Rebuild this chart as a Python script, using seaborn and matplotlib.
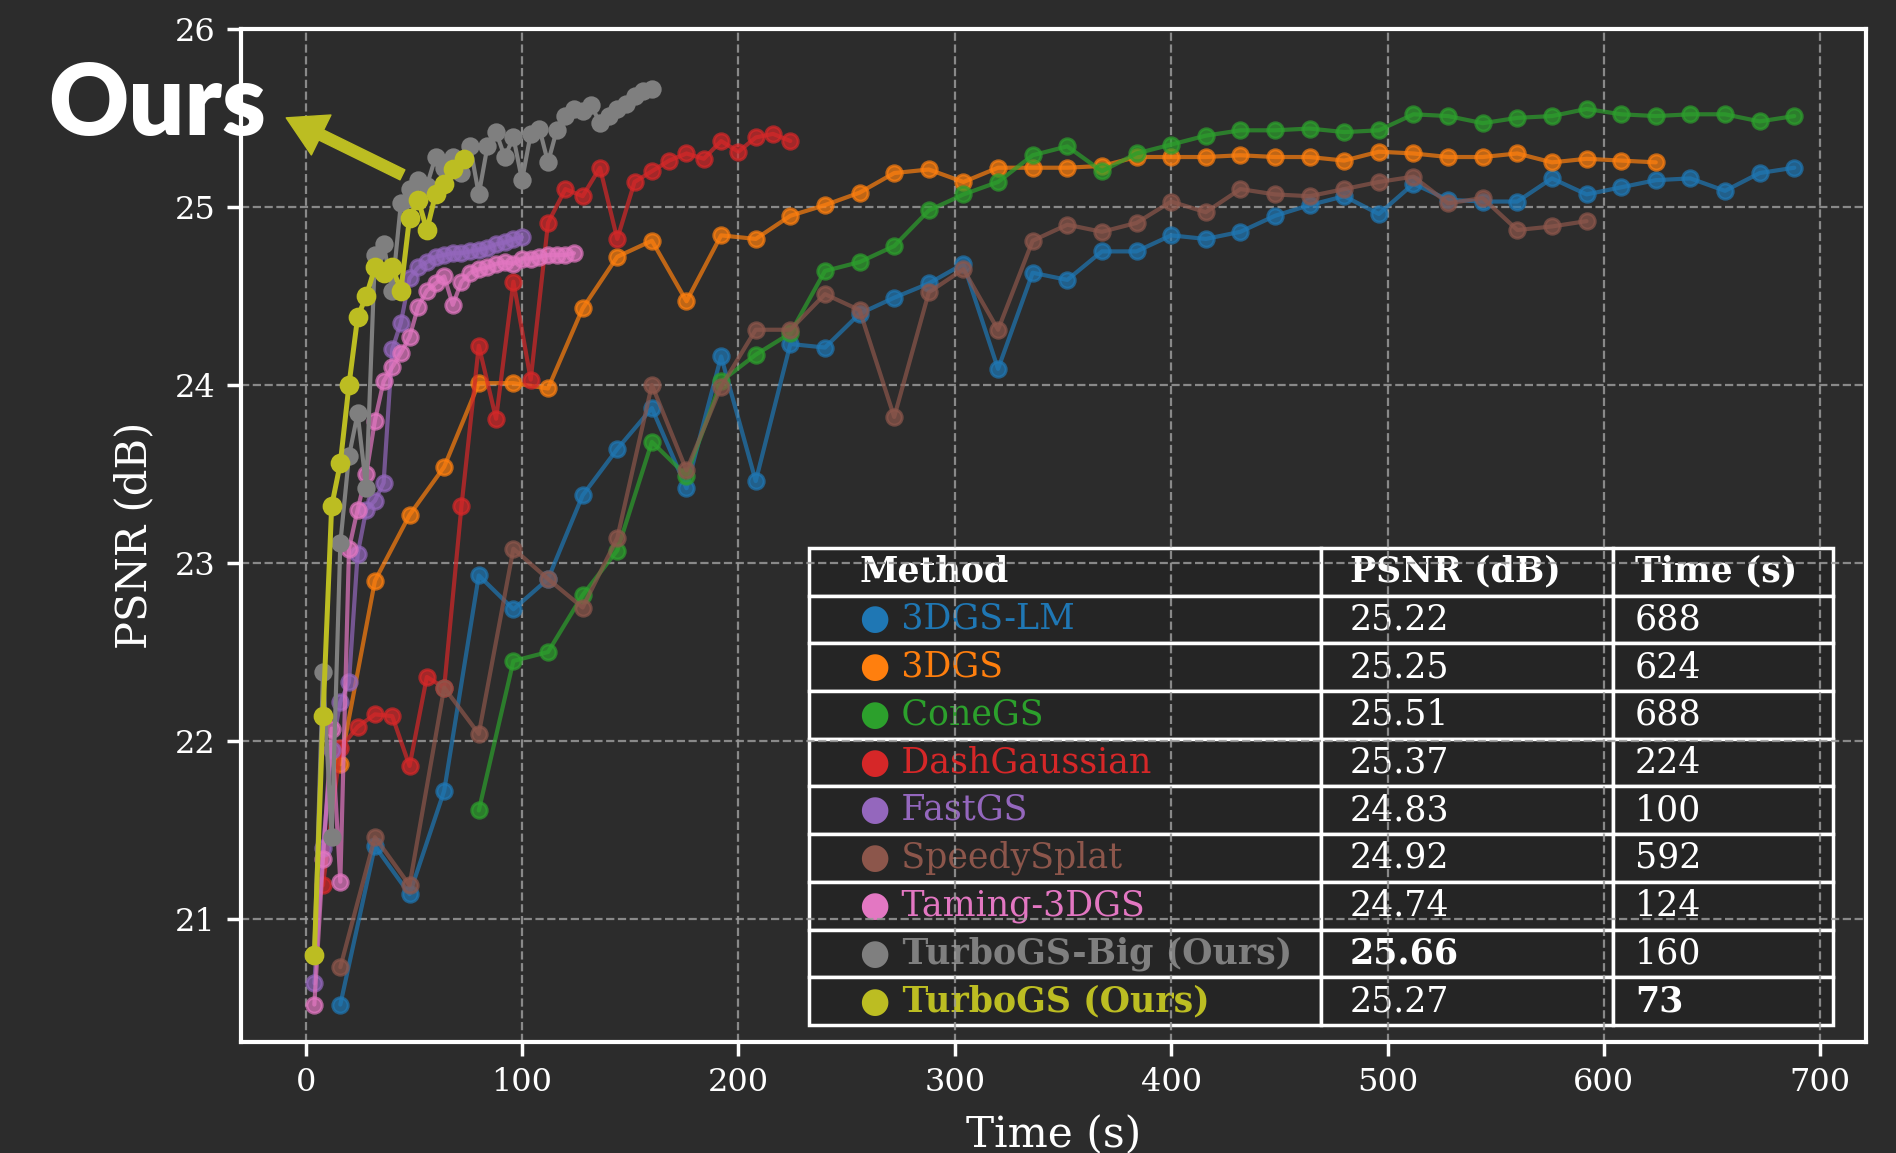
import numpy as np
import pandas as pd
import seaborn as sns
import matplotlib.pyplot as plt

# evaluation times (s) and PSNR (dB) per method
t_lm = list(range(16, 689, 16))
psnr_lm = [20.52, 21.41, 21.14, 21.72, 22.93, 22.74, 22.91, 23.38, 23.64, 23.87,
           23.42, 24.16, 23.46, 24.23, 24.21, 24.40, 24.49, 24.57, 24.68, 24.09,
           24.63, 24.59, 24.75, 24.75, 24.84, 24.82, 24.86, 24.95, 25.01, 25.06,
           24.96, 25.13, 25.04, 25.03, 25.03, 25.16, 25.07, 25.11, 25.15, 25.16,
           25.09, 25.19, 25.22]

t_3dgs = list(range(16, 625, 16))
psnr_3dgs = [21.87, 22.90, 23.27, 23.54, 24.01, 24.01, 23.98, 24.43, 24.72, 24.81,
             24.47, 24.84, 24.82, 24.95, 25.01, 25.08, 25.19, 25.21, 25.14, 25.22,
             25.22, 25.22, 25.23, 25.28, 25.28, 25.28, 25.29, 25.28, 25.28, 25.26,
             25.31, 25.30, 25.28, 25.28, 25.30, 25.25, 25.27, 25.26, 25.25]

t_cone = list(range(80, 689, 16))
psnr_cone = [21.61, 22.45, 22.50, 22.82, 23.07, 23.68, 23.49, 24.02, 24.17, 24.29,
             24.64, 24.69, 24.78, 24.98, 25.07, 25.14, 25.29, 25.34, 25.20, 25.30,
             25.35, 25.40, 25.43, 25.43, 25.44, 25.42, 25.43, 25.52, 25.51, 25.47,
             25.50, 25.51, 25.55, 25.52, 25.51, 25.52, 25.52, 25.48, 25.51]

t_dash = list(range(8, 225, 8))
psnr_dash = [21.19, 21.96, 22.08, 22.15, 22.14, 21.86, 22.36, 22.30, 23.32, 24.22,
             23.81, 24.58, 24.03, 24.91, 25.10, 25.06, 25.22, 24.82, 25.14, 25.20,
             25.26, 25.30, 25.27, 25.37, 25.31, 25.39, 25.41, 25.37]

t_fast = list(range(4, 101, 4))
psnr_fast = [20.64, 21.40, 21.95, 22.22, 22.33, 23.05, 23.30, 23.35, 23.45, 24.20,
             24.35, 24.60, 24.66, 24.69, 24.72, 24.73, 24.74, 24.74, 24.75, 24.76,
             24.77, 24.79, 24.80, 24.82, 24.83]

t_speedy = list(range(16, 593, 16))
psnr_speedy = [20.73, 21.46, 21.19, 22.30, 22.04, 23.08, 22.91, 22.75, 23.14, 24.00,
               23.52, 23.99, 24.31, 24.31, 24.51, 24.42, 23.82, 24.52, 24.65, 24.31,
               24.81, 24.90, 24.86, 24.91, 25.03, 24.97, 25.10, 25.07, 25.06, 25.10,
               25.14, 25.17, 25.02, 25.05, 24.87, 24.89, 24.92]

t_taming = list(range(4, 125, 4))
psnr_taming = [20.52, 21.34, 22.07, 21.21, 23.08, 23.30, 23.50, 23.80, 24.02, 24.10,
               24.18, 24.27, 24.44, 24.53, 24.57, 24.61, 24.45, 24.58, 24.63, 24.65,
               24.66, 24.68, 24.69, 24.68, 24.71, 24.71, 24.72, 24.73, 24.73, 24.73,
               24.74]

t_big = list(range(4, 161, 4))
psnr_big = [20.80, 22.39, 21.46, 23.11, 23.60, 23.84, 23.42, 24.73, 24.79, 24.53,
            25.02, 25.10, 25.15, 25.12, 25.28, 25.22, 25.28, 25.19, 25.34, 25.07,
            25.34, 25.42, 25.28, 25.39, 25.15, 25.41, 25.44, 25.25, 25.43, 25.51,
            25.55, 25.54, 25.57, 25.47, 25.51, 25.55, 25.58, 25.62, 25.65, 25.66]

t_turbo = list(range(4, 69, 4)) + [73]
psnr_turbo = [20.80, 22.14, 23.32, 23.56, 24.00, 24.38, 24.50, 24.66, 24.63, 24.66,
              24.53, 24.94, 25.04, 24.87, 25.07, 25.13, 25.21, 25.27]

methods = ["3DGS-LM", "3DGS", "ConeGS", "DashGaussian", "FastGS", "SpeedySplat",
           "Taming-3DGS", "TurboGS-Big (Ours)", "TurboGS (Ours)"]
times = [t_lm, t_3dgs, t_cone, t_dash, t_fast, t_speedy, t_taming, t_big, t_turbo]
psnrs = [psnr_lm, psnr_3dgs, psnr_cone, psnr_dash, psnr_fast, psnr_speedy,
         psnr_taming, psnr_big, psnr_turbo]
colors = ["#1f77b4", "#ff7f0e", "#2ca02c", "#d62728", "#9467bd", "#8c564b",
          "#e377c2", "#7f7f7f", "#bcbd22"]

final_psnr = ["25.22", "25.25", "25.51", "25.37", "24.83", "24.92", "24.74", "25.66", "25.27"]
final_time = ["688", "624", "688", "224", "100", "592", "124", "160", "73"]

BG = "#2c2c2c"
sns.set_style("ticks", rc={"axes.facecolor": BG, "figure.facecolor": BG,
                           "axes.edgecolor": "white", "text.color": "white",
                           "axes.labelcolor": "white", "xtick.color": "white",
                           "ytick.color": "white"})
plt.rcParams["font.family"] = ["DejaVu Serif", "DejaVu Sans"]

fig, ax = plt.subplots(figsize=(18.96, 11.53), dpi=100)
fig.subplots_adjust(left=0.127, right=0.984, bottom=0.0963, top=0.975)

for i, (name, t, p, c) in enumerate(zip(methods, times, psnrs, colors)):
    ours = "Ours" in name
    main = name == "TurboGS (Ours)"
    df = pd.DataFrame({"time": t, "psnr": p})
    sns.lineplot(data=df, x="time", y="psnr", ax=ax, color=c, marker="o",
                 markersize=12 if main else 11,
                 linewidth=3.6 if main else 3.0,
                 alpha=1.0 if ours else 0.7,
                 markeredgecolor=c, markeredgewidth=2.2,
                 estimator=None, sort=False, zorder=3 + i)

ax.set_xlim(-30, 721)
ax.set_ylim(20.31, 26.0)
ax.set_xticks(range(0, 701, 100))
ax.set_yticks(range(21, 27))
ax.set_axisbelow("line")
ax.grid(True, linestyle="--", color="#9a9a9a", linewidth=1.6, alpha=0.85)
for s in ax.spines.values():
    s.set_color("white")
    s.set_linewidth(3)
ax.tick_params(length=10, width=2.5, labelsize=23, pad=8, colors="white")
ax.set_xlabel("Time (s)", fontsize=30.5, labelpad=12)
ax.set_ylabel("PSNR (dB)", fontsize=30, labelpad=14)

# results table
cell_text = [["Method", "PSNR (dB)", "Time (s)"]]
for name, p, t in zip(methods, final_psnr, final_time):
    cell_text.append(["\u25CF " + name, p, t])
W = 0.6305
tbl = ax.table(cellText=cell_text, colWidths=[0.5 * W, 0.285 * W, 0.215 * W],
               bbox=[0.3495, 0.0168, W, 0.4709], cellLoc="left")
tbl.set_zorder(1)
tbl.auto_set_font_size(False)
tbl.set_fontsize(25)
for (r, c), cell in tbl.get_celld().items():
    cell.set_facecolor("#252525")
    cell.set_edgecolor("white")
    cell.set_linewidth(2.5)
    txt = cell.get_text()
    txt.set_color("white")
    if r == 0:
        txt.set_fontweight("bold")
        continue
    name = methods[r - 1]
    if c == 0:
        txt.set_color(colors[r - 1])
        if "Ours" in name:
            txt.set_fontweight("bold")
    if name == "TurboGS-Big (Ours)" and c == 1:
        txt.set_fontweight("bold")
    if name == "TurboGS (Ours)" and c == 2:
        txt.set_fontweight("bold")

# "Ours" callout
ax.annotate("", xy=(-9, 25.50), xytext=(44.7, 25.18), annotation_clip=False,
            arrowprops=dict(facecolor="#bcbd22", edgecolor="#bcbd22", width=8,
                            headwidth=32, headlength=28, shrink=0), zorder=20)
fig.text(0.083, 0.908, "Ours", fontsize=71, fontweight="heavy", family="Lato",
         color="white", ha="center", va="center", zorder=30)

fig.savefig("out.png", dpi=100, facecolor=BG)
